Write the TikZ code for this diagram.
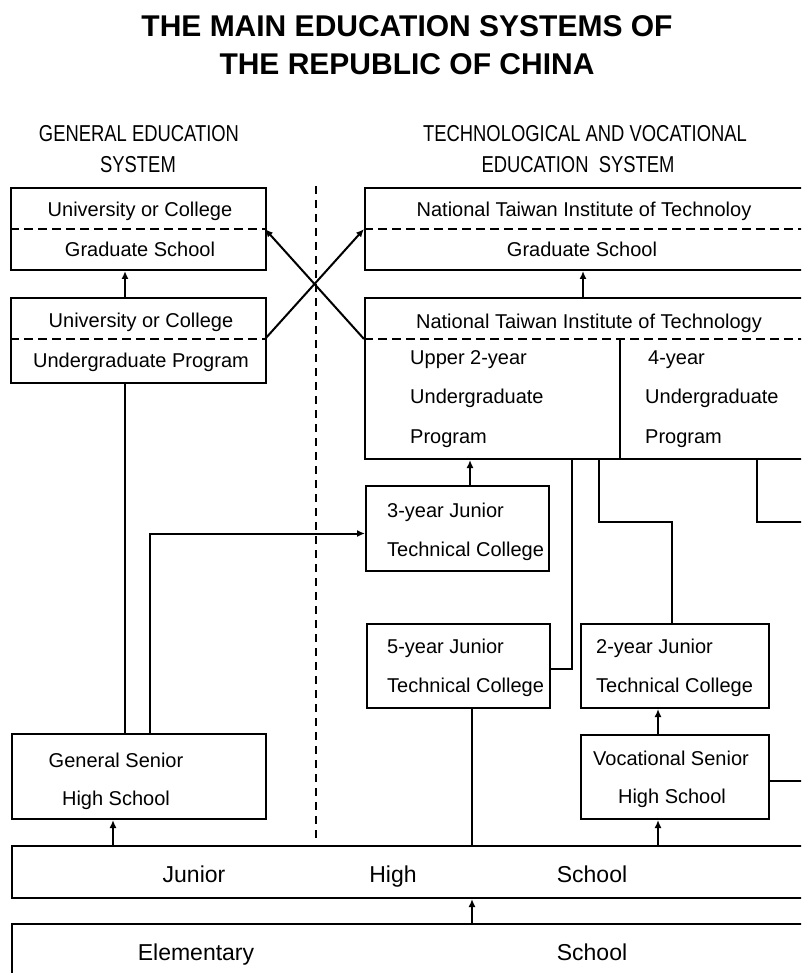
\documentclass[tikz,border=0pt]{standalone}
\usepackage{fontspec}
\setmainfont{Liberation Sans}
\newfontfamily\hdrfont[FakeStretch=0.8]{Liberation Sans}
\usepackage{tikz}
\usetikzlibrary{positioning,calc,arrows.meta}

\begin{document}
\begin{tikzpicture}[x=1pt, y=-1pt,
      box/.style={draw, line width=2pt, rectangle, inner sep=0pt, anchor=north west},
      sub/.style={line width=2pt, dash pattern=on 9pt off 5pt},
      sep/.style={line width=2pt, dash pattern=on 8pt off 6pt},
      arr/.style={line width=2pt, -{Latex[length=8pt,width=7pt]}},
      con/.style={line width=2pt},
      lbl/.style={inner sep=0pt, anchor=base, font=\fontsize{20}{24}\selectfont},
      lbw/.style={lbl, anchor=base west},
      big/.style={inner sep=0pt, anchor=base, font=\fontsize{23}{28}\selectfont},
      hdr/.style={inner sep=0pt, anchor=base, font=\hdrfont\fontsize{23}{28}\selectfont}]
    \clip (0,0) rectangle (801,973);
    % title and headings
    \node (T1) [inner sep=0pt, anchor=base, font=\bfseries\fontsize{30}{36}\selectfont] at (407,37) {THE MAIN EDUCATION SYSTEMS OF};
    \node (T2) [inner sep=0pt, anchor=base, font=\bfseries\fontsize{30}{36}\selectfont] at (407,75) {THE REPUBLIC OF CHINA};
    \node (H1) [hdr] at (139,142) {GENERAL EDUCATION};
    \node (H2) [hdr] at (138,173) {SYSTEM};
    \node (H3) [hdr] at (585,142) {TECHNOLOGICAL AND VOCATIONAL};
    \node (H4) [hdr] at (578,173) {EDUCATION\ \ SYSTEM};
    \coordinate (SEPT) at (316,186);
    \coordinate (SEPB) at (316,840);
    \draw[sep] (SEPT) -- (SEPB);

    % general education
    \node (UGS) [box, minimum width=255pt, minimum height=82pt] at (10,187) {};
    \coordinate (UGS-l) at (10,229); \coordinate (UGS-r) at (265,229);
    \draw[sub] (UGS-l) -- (UGS-r);
    \node (UGS-a) [lbl] at (140,217) {University or College};
    \node (UGS-b) [lbl] at (140,257) {Graduate School};
    \node (UUG) [box, minimum width=255pt, minimum height=85pt] at (10,297) {};
    \coordinate (UUG-l) at (10,339); \coordinate (UUG-r) at (265,339);
    \draw[sub] (UUG-l) -- (UUG-r);
    \node (UUG-a) [lbl] at (141,327) {University or College};
    \node (UUG-b) [lbl] at (141,367) {Undergraduate Program};
    \node (GSHS) [box, minimum width=254pt, minimum height=85pt] at (11,733) {};
    \node (GSHS-a) [lbl] at (116,767) {General Senior};
    \node (GSHS-b) [lbl] at (116,805) {High School};

    % technological and vocational education
    \node (NTITG) [box, minimum width=460pt, minimum height=82pt] at (364,187) {};
    \coordinate (NTITG-l) at (364,229); \coordinate (NTITG-r) at (824,229);
    \draw[sub] (NTITG-l) -- (NTITG-r);
    \node (NTITG-a) [lbl] at (584,217) {National Taiwan Institute of Technoloy};
    \node (NTITG-b) [lbl] at (582,257) {Graduate School};
    \node (NTIT) [box, minimum width=460pt, minimum height=161pt] at (364,297) {};
    \coordinate (NTIT-l) at (364,339); \coordinate (NTIT-r) at (824,339);
    \draw[sub] (NTIT-l) -- (NTIT-r);
    \coordinate (DIVT) at (620,339);
    \draw[con] (DIVT) -- (DIVT |- NTIT.south);
    \node (NTIT-a) [lbl] at (589,328) {National Taiwan Institute of Technology};
    \node (UP-a) [lbw] at (410,364) {Upper 2-year};
    \node (UP-b) [lbw] at (410,403) {Undergraduate};
    \node (UP-c) [lbw] at (410,443) {Program};
    \node (FY-a) [lbw] at (648,364) {4-year};
    \node (FY-b) [lbw] at (645,403) {Undergraduate};
    \node (FY-c) [lbw] at (645,443) {Program};
    \node (JTC3) [box, minimum width=183pt, minimum height=85pt] at (365,485) {};
    \node (JTC3-a) [lbw] at (387,517) {3-year Junior};
    \node (JTC3-b) [lbw] at (387,556) {Technical College};
    \node (JTC5) [box, minimum width=183pt, minimum height=84pt] at (366,623) {};
    \node (JTC5-a) [lbw] at (387,653) {5-year Junior};
    \node (JTC5-b) [lbw] at (387,692) {Technical College};
    \node (JTC2) [box, minimum width=188pt, minimum height=84pt] at (580,623) {};
    \node (JTC2-a) [lbw] at (596,653) {2-year Junior};
    \node (JTC2-b) [lbw] at (596,692) {Technical College};
    \node (VSHS) [box, minimum width=188pt, minimum height=84pt] at (580,734) {};
    \node (VSHS-a) [lbl] at (671,765) {Vocational Senior};
    \node (VSHS-b) [lbl] at (672,803) {High School};

    % common schools
    \node (JHS) [box, minimum width=813pt, minimum height=52pt] at (11,845) {};
    \node (JHS-a) [big] at (194,882) {Junior};
    \node (JHS-b) [big] at (393,882) {High};
    \node (JHS-c) [big] at (592,882) {School};
    \node (ELEM) [box, minimum width=813pt, minimum height=80pt] at (11,923) {};
    \node (ELEM-a) [big] at (196,960) {Elementary};
    \node (ELEM-b) [big] at (592,960) {School};

    % connectors
    \coordinate (OUT1) at (824,522);
    \coordinate (OUT2) at (824,780);
    \draw[arr] ([xshift=115pt]UUG.north west) -- ([xshift=115pt]UGS.south west);
    \draw[arr] ([xshift=219pt]NTIT.north west) -- ([xshift=219pt]NTITG.south west);
    \draw[arr] (UUG-r) -- (NTITG-l);
    \draw[arr] (NTIT-l) -- (UGS-r);
    \draw[arr] ([xshift=105pt]JTC3.north west) -- ([xshift=106pt]NTIT.south west);
    \draw[con] ([xshift=114pt]GSHS.north west) -- ([xshift=115pt]UUG.south west);
    \draw[arr] ([xshift=139pt]GSHS.north west) |- ([yshift=-5pt]JTC3.west);
    \draw[con] ([yshift=-3pt]JTC5.east) -| ([xshift=208pt]NTIT.south west);
    \draw[con] ([xshift=92pt]JTC2.north west) -- ++(0,-101) -| ([xshift=235pt]NTIT.south west);
    \draw[con] ([xshift=393pt]NTIT.south west) |- (OUT1);
    \draw[arr] ([xshift=78pt]VSHS.north west) -- ([xshift=78pt]JTC2.south west);
    \draw[con] ([yshift=-4pt]VSHS.east) coordinate (V1) -- (V1 -| OUT2);
    \draw[arr] ([xshift=647pt]JHS.north west) -- ([xshift=78pt]VSHS.south west);
    \draw[arr] ([xshift=102pt]JHS.north west) -- ([xshift=102pt]GSHS.south west);
    \draw[con] ([xshift=461pt]JHS.north west) -- ([xshift=106pt]JTC5.south west);
    \draw[arr] ([xshift=461pt]ELEM.north west) -- ([xshift=461pt]JHS.south west);
  \end{tikzpicture}
\end{document}
